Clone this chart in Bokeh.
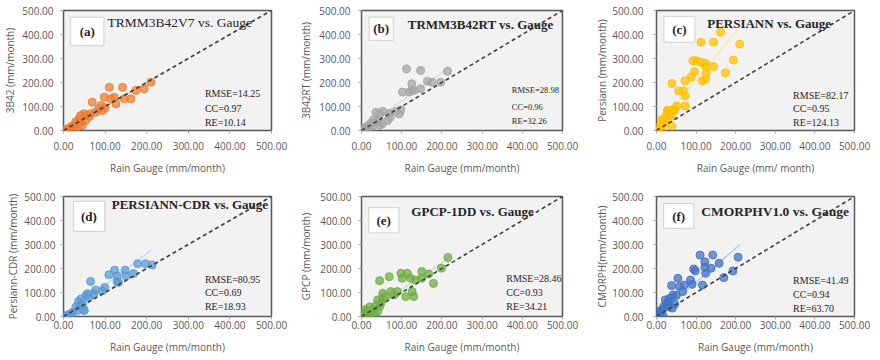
from bokeh.plotting import figure
from bokeh.layouts import gridplot
from bokeh.models import Range1d, FixedTicker, NumeralTickFormatter, Label, BoxAnnotation, Slope
from bokeh.embed import file_html
from bokeh.resources import INLINE

ticks = [0, 100, 200, 300, 400, 500]

# (a) TRMM3B42V7
gauge_a = [0, 5, 9, 17, 16, 21, 25, 33, 29, 37, 41, 49, 45, 41, 53, 57, 62, 65, 77, 69, 85, 90, 94, 100, 98,
           110, 114, 122, 126, 142, 146, 162, 174, 194, 210]
sat_a = [0, 3, 7, 14, 0, 18, 21, 14, 35, 49, 62, 70, 21, 35, 42, 62, 58, 70, 76, 118, 92, 104, 83, 95, 139,
         180, 132, 139, 111, 180, 132, 132, 167, 174, 201]
# (b) TRMM3B42RT
gauge_b = [0, 5, 8, 12, 16, 20, 24, 28, 30, 36, 45, 53, 41, 45, 52, 65, 69, 72, 86, 94, 98, 102, 112, 119,
           125, 125, 131, 147, 147, 164, 176, 197, 214]
sat_b = [0, 3, 11, 6, 21, 14, 31, 20, 45, 76, 69, 80, 42, 21, 28, 42, 72, 55, 80, 69, 86, 160, 257, 160,
         195, 170, 167, 250, 174, 205, 201, 201, 247]
# (c) PERSIANN
gauge_c = [0, 3, 6, 15, 11, 19, 14, 22, 31, 24, 27, 28, 43, 51, 39, 39, 46, 72, 56, 68, 72, 39, 72, 88, 96,
           100, 92, 112, 116, 124, 124, 126, 124, 112, 144, 144, 162, 174, 194, 210]
sat_c = [0, 11, 5, 0, 25, 39, 46, 30, 60, 60, 80, 84, 88, 102, 60, 18, 84, 102, 165, 165, 144, 196, 207, 224,
         245, 291, 291, 284, 207, 214, 266, 238, 280, 368, 368, 266, 409, 241, 294, 360]
# (d) PERSIANN-CDR
gauge_d = [6, 2, 10, 14, 18, 22, 30, 34, 42, 38, 46, 50, 48, 42, 36, 54, 58, 61, 73, 77, 65, 93, 99, 109,
           123, 129, 129, 132, 148, 150, 168, 178, 197, 213]
sat_d = [0, 4, 3, 8, 12, 18, 40, 25, 38, 45, 52, 25, 30, 73, 62, 87, 95, 80, 94, 110, 146, 107, 121, 174,
         193, 169, 146, 142, 193, 169, 179, 220, 220, 215]
# (e) GPCP-1DD
gauge_e = [4, 2, 10, 8, 16, 12, 24, 20, 28, 32, 40, 45, 36, 40, 48, 52, 45, 53, 61, 69, 73, 81, 89, 98, 101,
           110, 114, 122, 126, 130, 134, 150, 150, 167, 179, 199, 215]
sat_e = [0, 10, 12, 28, 7, 18, 16, 40, 28, 7, 21, 41, 45, 69, 55, 78, 149, 97, 83, 166, 104, 90, 104, 180,
         159, 83, 180, 159, 104, 83, 152, 187, 159, 177, 138, 201, 246]
# (f) CMORPHV1.0
gauge_f = [0, 2, 6, 10, 14, 16, 18, 26, 22, 30, 30, 34, 40, 42, 46, 38, 50, 54, 58, 66, 70, 86, 90, 94, 98,
           110, 116, 122, 122, 124, 138, 142, 158, 170, 193, 206]
sat_f = [7, 0, 21, 12, 28, 5, 41, 55, 69, 40, 62, 76, 35, 90, 52, 129, 88, 159, 124, 104, 131, 152, 134, 198,
         190, 256, 131, 228, 205, 180, 201, 256, 222, 162, 190, 247]

# fitted trend lines (endpoints)
trend_x_a = [0, 210]
trend_y_a = [3, 205]
trend_x_b = [0, 210]
trend_y_b = [5, 252]
trend_x_c = [0, 205]
trend_y_c = [10, 420]
trend_x_d = [0, 211]
trend_y_d = [0, 276]
trend_x_e = [0, 215]
trend_y_e = [0, 240]
trend_x_f = [0, 211]
trend_y_f = [0, 300]

panel_tags = ["(a)", "(b)", "(c)", "(d)", "(e)", "(f)"]
panel_titles = ["TRMM3B42V7 vs. Gauge", "TRMM3B42RT vs. Gauge", "PERSIANN vs. Gauge",
                "PERSIANN-CDR vs. Gauge", "GPCP-1DD vs. Gauge", "CMORPHV1.0 vs. Gauge"]
y_titles = ["3B42 (mm/month)", "3B42RT (mm/month)", "Persiann (mm/month)",
            "Persiann-CDR (mm/month)", "GPCP (mm/month)", "CMORPH(mm/month)"]
x_titles = ["Rain Gauge (mm/month)", "Rain Gauge (mm/month)", "Rain Gauge (mm/ month)",
            "Rain Gauge (mm/month)", "Rain Gauge (mm/month)", "Rain Gauge (mm/month)"]
rmse_vals = ["14.25", "28.98", "82.17", "80.95", "28.46", "41.49"]
cc_vals = ["0.97", "0.96", "0.95", "0.69", "0.93", "0.94"]
re_vals = ["10.14", "32.26", "124.13", "18.93", "34.21", "63.70"]

gauges = [gauge_a, gauge_b, gauge_c, gauge_d, gauge_e, gauge_f]
sats = [sat_a, sat_b, sat_c, sat_d, sat_e, sat_f]
trends = [(trend_x_a, trend_y_a), (trend_x_b, trend_y_b), (trend_x_c, trend_y_c),
          (trend_x_d, trend_y_d), (trend_x_e, trend_y_e), (trend_x_f, trend_y_f)]

# styles / layout
colors = ["#ED7D31", "#A5A5A5", "#FFC000", "#5B9BD5", "#70AD47", "#4472C4"]
trend_colors = ["#F8CBAD", "#D9D9D9", "#FFE699", "#BDD7EE", "#C5E0B4", "#B4C7E7"]
LAYOUT = [
    # figure w/h, borders, label standoffs, tick length
    dict(w=296, h=177, l=63, r=24, t=10, b=47, yls=7, yals=2, xls=8, xals=8, tk=3),
    dict(w=294, h=177, l=61, r=23, t=10, b=47, yls=8, yals=3, xls=8, xals=8, tk=3),
    dict(w=280, h=177, l=65, r=16, t=10, b=47, yls=10, yals=0, xls=8, xals=8, tk=3),
    dict(w=296, h=179, l=59, r=25, t=19, b=40, yls=5, yals=1, xls=1, xals=8, tk=3),
    dict(w=294, h=179, l=61, r=28, t=19, b=40, yls=7, yals=4, xls=1, xals=8, tk=3),
    dict(w=280, h=179, l=66, r=16, t=19, b=40, yls=10, yals=0, xls=1, xals=8, tk=3),
]
TAGBOX = [(17, 97, 354, 471), (19, 79, 375, 472), (19, 97, 368, 475),
          (24, 99, 355, 480), (18, 93, 349, 454), (18, 94, 367, 470)]
TAGPOS = [(57, 412), (49, 423), (58, 421), (61, 417), (55, 401), (56, 418)]
TITLEPOS = [(106, 448), (115, 440), (128, 445), (116, 466), (124, 436), (113, 436)]
TITLESTYLE = [("normal", "13.5px"), ("bold", "13px"), ("bold", "13px"),
              ("bold", "13px"), ("bold", "13px"), ("bold", "13.5px")]
STATPOS = [(340, 154, 93, 35), (374, 167, 97, 39), (345, 146, 90, 32),
           (340, 156, 100, 41), (360, 159, 100, 41), (345, 152, 93, 35)]
STATSIZE = ["10px", "8.5px", "10px", "10px", "10px", "10px"]

SERIF = "Liberation Serif"
SANS = "Open Sans"
AX_COLOR = "#595959"


def make_panel(i):
    L = LAYOUT[i]
    p = figure(width=L["w"], height=L["h"], output_backend="svg", toolbar_location=None,
               x_range=Range1d(0, 500), y_range=Range1d(0, 500),
               min_border_left=L["l"], min_border_right=L["r"],
               min_border_top=L["t"], min_border_bottom=L["b"])
    p.background_fill_color = "#f2f2f2"
    p.border_fill_color = "white"
    p.outline_line_color = "#595959"
    p.outline_line_width = 1.5
    p.grid.visible = False
    for ax in (p.xaxis[0], p.yaxis[0]):
        ax.ticker = FixedTicker(ticks=ticks)
        ax.formatter = NumeralTickFormatter(format="0.00")
        ax.axis_line_color = None
        ax.major_tick_line_color = "#a6a6a6"
        ax.major_tick_in = 0
        ax.major_tick_out = L["tk"]
        ax.minor_tick_line_color = None
        ax.major_label_text_font = SANS
        ax.major_label_text_font_size = "10px"
        ax.major_label_text_color = AX_COLOR
        ax.axis_label_text_font = SANS
        ax.axis_label_text_font_size = "10px"
        ax.axis_label_text_font_style = "normal"
        ax.axis_label_text_color = AX_COLOR
    p.xaxis[0].axis_label = x_titles[i]
    p.yaxis[0].axis_label = y_titles[i]
    p.xaxis[0].major_label_standoff = L["xls"]
    p.xaxis[0].axis_label_standoff = L["xals"]
    p.yaxis[0].major_label_standoff = L["yls"]
    p.yaxis[0].axis_label_standoff = L["yals"]

    tx, ty = trends[i]
    p.line(tx, ty, line_color=trend_colors[i], line_width=1.5, line_alpha=0.9)
    p.add_layout(Slope(gradient=1, y_intercept=0, line_color="#404040", line_width=1.6,
                       line_dash="4 3"))
    p.scatter(gauges[i], sats[i], size=8, fill_color=colors[i], fill_alpha=0.75,
              line_color=colors[i], line_alpha=0.9, line_width=1)

    l, r, b, t = TAGBOX[i]
    p.add_layout(BoxAnnotation(left=l, right=r, bottom=b, top=t, fill_color="white", fill_alpha=1,
                               line_color="#8c8c8c", line_width=1.2))
    tx_, ty_ = TAGPOS[i]
    p.add_layout(Label(x=tx_, y=ty_, text=panel_tags[i], text_align="center", text_baseline="middle",
                       text_font=SERIF, text_font_size="13px", text_font_style="bold",
                       text_color="#262626"))
    ttx, tty = TITLEPOS[i]
    style, size = TITLESTYLE[i]
    p.add_layout(Label(x=ttx, y=tty, text=panel_titles[i], text_align="left", text_baseline="middle",
                       text_font=SERIF, text_font_size=size, text_font_style=style,
                       text_color="#262626"))
    sx, y1, y2, y3 = STATPOS[i]
    for yy, txt in ((y1, "RMSE=" + rmse_vals[i]), (y2, "CC=" + cc_vals[i]), (y3, "RE=" + re_vals[i])):
        p.add_layout(Label(x=sx, y=yy, text=txt, text_align="left", text_baseline="middle",
                           text_font=SERIF, text_font_size=STATSIZE[i], text_color="#262626"))
    return p


panels = [make_panel(i) for i in range(6)]
grid = gridplot([panels[0:3], panels[3:6]], toolbar_location=None)

open("out.html", "w").write(file_html(grid, INLINE))
